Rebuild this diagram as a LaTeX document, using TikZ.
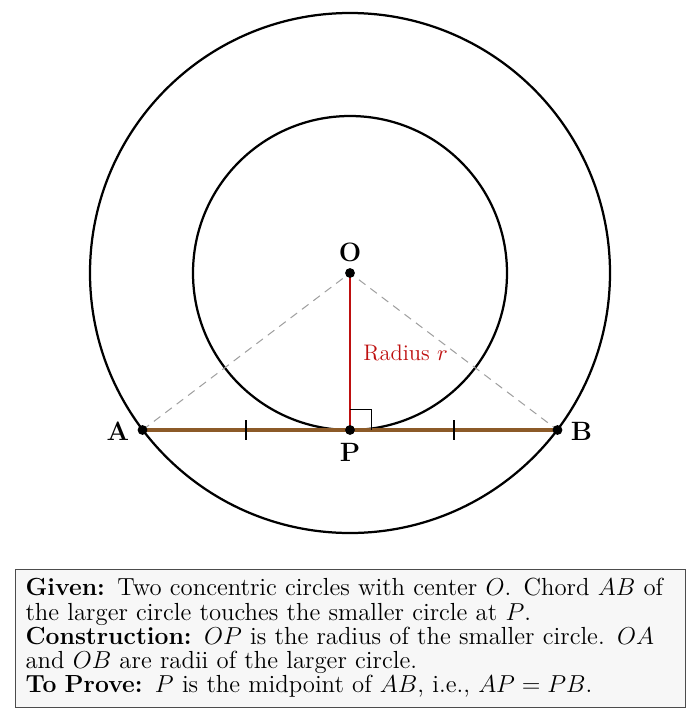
\documentclass[tikz,border=0pt]{standalone}
\usepackage{amsmath}
\usetikzlibrary{calc}
\definecolor{chordbrown}{RGB}{140,90,40}
\definecolor{radred}{RGB}{190,15,15}
\begin{document}
\begin{tikzpicture}[x=0.49pt,y=-0.49pt,
  dot/.style={circle,fill=black,inner sep=0pt,minimum size=4.8pt},
  lbl/.style={font=\fontsize{13}{15}\selectfont\bfseries,inner sep=0pt},
  circ/.style={line width=1.1pt,black},
  tick/.style={line width=1pt,black}]
\useasboundingbox (0,0) rectangle (700,719);
\coordinate (O) at (350,273);
\coordinate (P) at (350,430);
\coordinate (A) at (142.5,430);
\coordinate (B) at (557.5,430);
\draw[circ] (O) circle[radius=157*0.49pt];
\draw[circ] (O) circle[radius=260*0.49pt];
\draw[gray!75,dash pattern=on 4pt off 3pt,line width=0.5pt] (A) -- (O) -- (B);
\draw[chordbrown,line width=2pt] (A) -- (B);
\draw[radred,line width=1pt] (O) -- (P);
\draw[line width=0.45pt] ($(P)+(0,-21)$) -- ++(21,0) -- ++(0,21);
\coordinate (m1) at (246,430);
\coordinate (m2) at (454,430);
\draw[tick] ($(m1)+(0,-10)$) -- ($(m1)+(0,10)$);
\draw[tick] ($(m2)+(0,-10)$) -- ($(m2)+(0,10)$);
\node[dot] (dO) at (O) {};
\node[dot] (dP) at (P) {};
\node[dot] (dA) at (A) {};
\node[dot] (dB) at (B) {};
\node[lbl] (lO) at (350,252) {O};
\node[lbl] (lP) at (350,452) {P};
\node[lbl] (lA) at (118,431) {A};
\node[lbl] (lB) at (581.5,431) {B};
\node[radred,anchor=west,inner sep=0pt,font=\fontsize{11}{13}\selectfont] (lr) at (363,353) {Radius $r$};
\node[draw=black!70,fill=black!3,line width=0.5pt,anchor=north west,inner xsep=4.9pt,inner ysep=4.6pt,
  text width=318.5pt,align=left,font=\fontsize{12.12}{11.9}\selectfont] (box) at (15,568.5)
{\textbf{Given:} Two concentric circles with center $O$. Chord $AB$ of\\
the larger circle touches the smaller circle at $P$.\\
\textbf{Construction:} $OP$ is the radius of the smaller circle. $OA$\\
and $OB$ are radii of the larger circle.\\
\textbf{To Prove:} $P$ is the midpoint of $AB$, i.e., $AP = PB$.};
\end{tikzpicture}
\end{document}
